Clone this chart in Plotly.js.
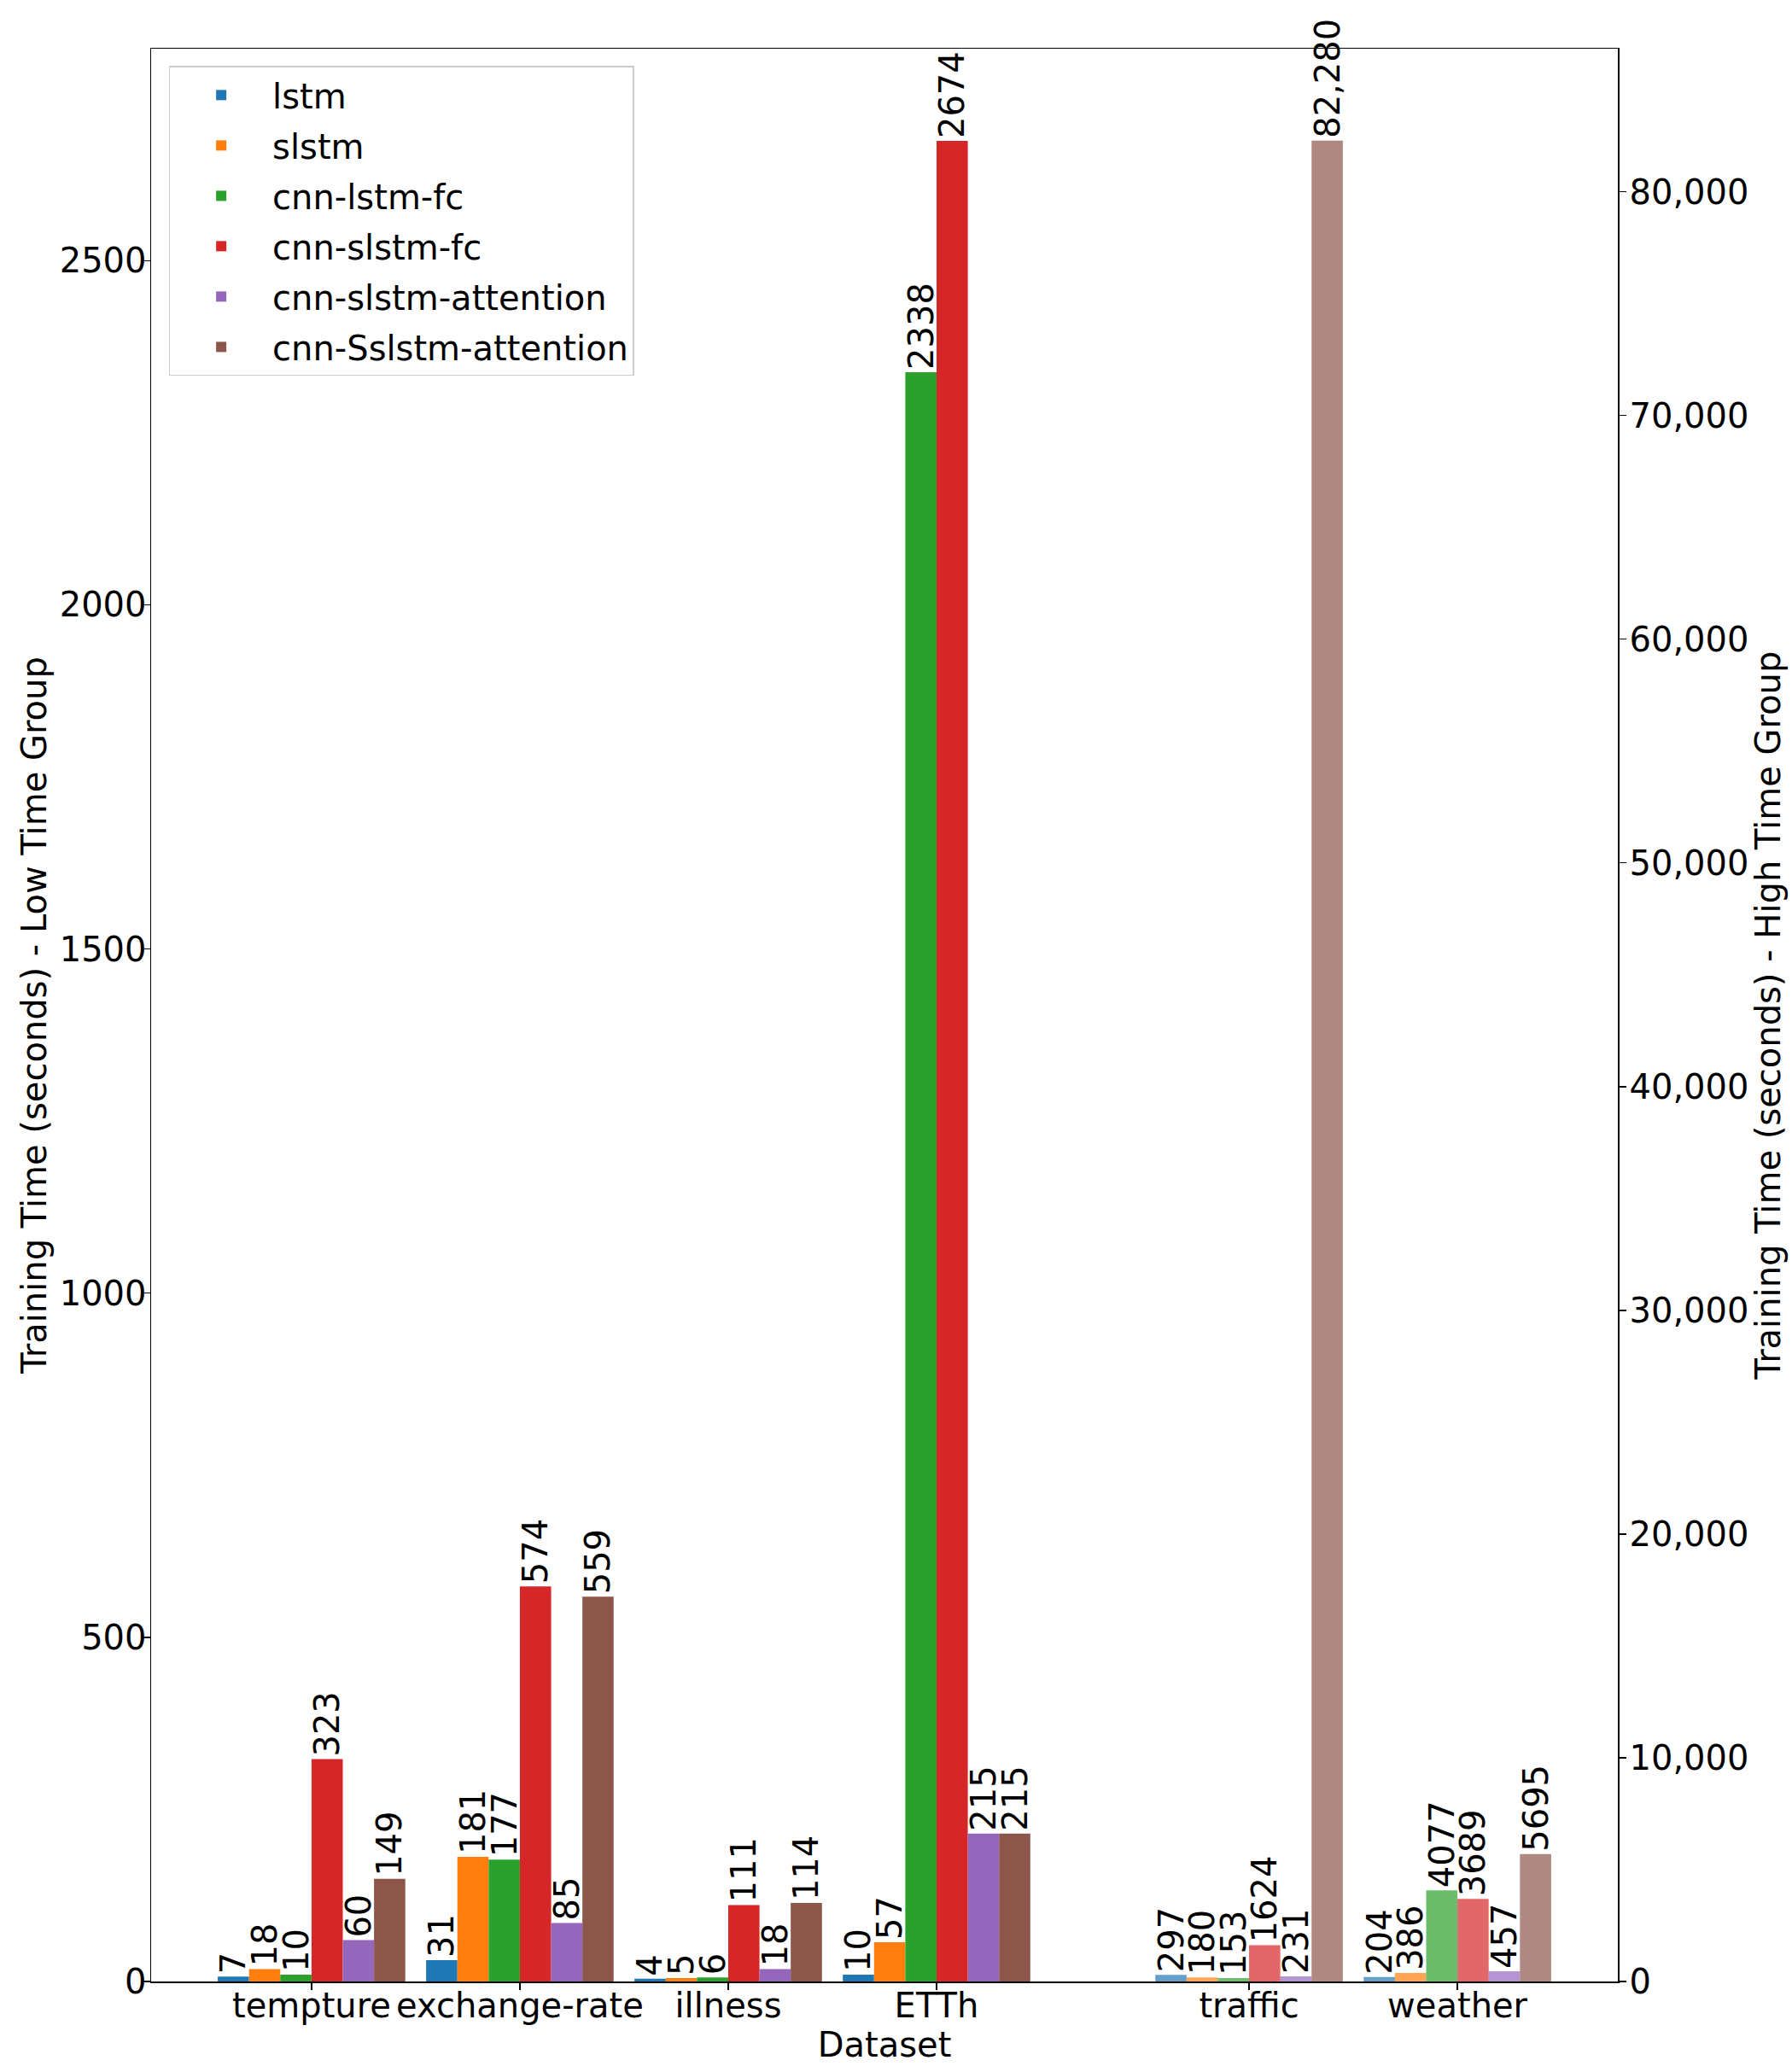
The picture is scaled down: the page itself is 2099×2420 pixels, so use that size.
<!DOCTYPE html>
<html>
<head>
<meta charset="utf-8">
<script src="https://cdn.plot.ly/plotly-3.0.1.min.js"></script>
<style>
  html, body { margin: 0; padding: 0; background: #fff; }
  #chart { width: 2099px; height: 2420px; }
</style>
</head>
<body>
<div id="chart"></div>
<script>
// models (one colour each)
var models = ['lstm', 'slstm', 'cnn-lstm-fc', 'cnn-slstm-fc', 'cnn-slstm-attention', 'cnn-Sslstm-attention'];
var colors = ['#1f77b4', '#ff7f0e', '#2ca02c', '#d62728', '#9467bd', '#8c564b'];

// datasets on the left (low) axis and on the right (high) axis
var lowSets = ['tempture', 'exchange-rate', 'illness', 'ETTh'];
var lowPos = [0, 1, 2, 3];
var highSets = ['traffic', 'weather'];
var highPos = [4.5, 5.5];

// training time in seconds, one row per model
var lowTimes = [
  [7, 31, 4, 10],
  [18, 181, 5, 57],
  [10, 177, 6, 2338],
  [323, 574, 111, 2674],
  [60, 85, 18, 215],
  [149, 559, 114, 215]
];
var highTimes = [
  [297, 204],
  [180, 386],
  [153, 4077],
  [1624, 3689],
  [231, 457],
  [82280, 5695]
];

var FONT = 'DejaVu Sans, Liberation Sans, sans-serif';
var FS = 40;
var barW = 0.15;

function fmt(v) {
  return v >= 10000 ? v.toLocaleString('en-US') : String(v);
}

var traces = [];
for (var i = 0; i < models.length; i++) {
  traces.push({
    type: 'bar',
    name: models[i],
    x: lowPos,
    y: lowTimes[i],
    width: barW,
    offset: -0.45 + i * barW,
    marker: {color: colors[i], line: {width: 0}},
    text: lowTimes[i].map(fmt),
    textposition: 'outside',
    textangle: -90,
    constraintext: 'none',
    cliponaxis: false,
    outsidetextfont: {family: FONT, size: FS, color: '#000'},
    yaxis: 'y',
    legendgroup: models[i]
  });
}
for (var i = 0; i < models.length; i++) {
  traces.push({
    type: 'bar',
    name: models[i],
    x: highPos,
    y: highTimes[i],
    width: barW,
    offset: -0.45 + i * barW,
    marker: {color: colors[i], opacity: 0.7, line: {width: 0}},
    text: highTimes[i].map(fmt),
    textposition: 'outside',
    textangle: -90,
    constraintext: 'none',
    cliponaxis: false,
    outsidetextfont: {family: FONT, size: FS, color: '#000'},
    yaxis: 'y2',
    showlegend: false,
    legendgroup: models[i]
  });
}

var layout = {
  width: 2099,
  height: 2420,
  paper_bgcolor: '#fff',
  plot_bgcolor: '#fff',
  font: {family: FONT, size: FS, color: '#000'},
  margin: {l: 177, r: 204, t: 57, b: 99},
  barmode: 'overlay',
  showlegend: true,
  hovermode: false,
  xaxis: {
    range: [-0.77, 6.27],
    tickvals: lowPos.concat(highPos),
    ticktext: lowSets.concat(highSets),
    ticks: 'outside', ticklen: 8, tickwidth: 1.5, tickcolor: '#000',
    ticklabelstandoff: -16,
    showgrid: false, zeroline: false,
    showline: true, linecolor: '#000', linewidth: 1.5, mirror: true,
    tickfont: {size: FS},
    title: {text: 'Dataset', font: {size: FS}, standoff: 2}
  },
  yaxis: {
    range: [0, 2808],
    tickvals: [0, 500, 1000, 1500, 2000, 2500],
    ticks: 'outside', ticklen: 8, tickwidth: 1.5, tickcolor: '#000',
    ticklabelstandoff: -12,
    showgrid: false, zeroline: false,
    showline: true, linecolor: '#000', linewidth: 1.5,
    tickfont: {size: FS},
    title: {text: 'Training Time (seconds) - Low Time Group', font: {size: FS}, standoff: 2}
  },
  yaxis2: {
    overlaying: 'y',
    side: 'right',
    range: [0, 86394],
    tickvals: [0, 10000, 20000, 30000, 40000, 50000, 60000, 70000, 80000],
    tickformat: ',d',
    ticks: 'outside', ticklen: 8, tickwidth: 1.5, tickcolor: '#000',
    ticklabelstandoff: -4,
    showgrid: false, zeroline: false,
    showline: true, linecolor: '#000', linewidth: 1.5,
    tickfont: {size: FS},
    title: {text: 'Training Time (seconds) - High Time Group', font: {size: FS}, standoff: 0}
  },
  legend: {
    x: 0.012, y: 0.991, xanchor: 'left', yanchor: 'top',
    bgcolor: 'rgba(255,255,255,0.8)',
    bordercolor: '#cccccc', borderwidth: 1.5,
    font: {size: FS},
    itemwidth: 110,
    tracegroupgap: 4
  }
};

Plotly.newPlot('chart', traces, layout, {staticPlot: true});
</script>
</body>
</html>
